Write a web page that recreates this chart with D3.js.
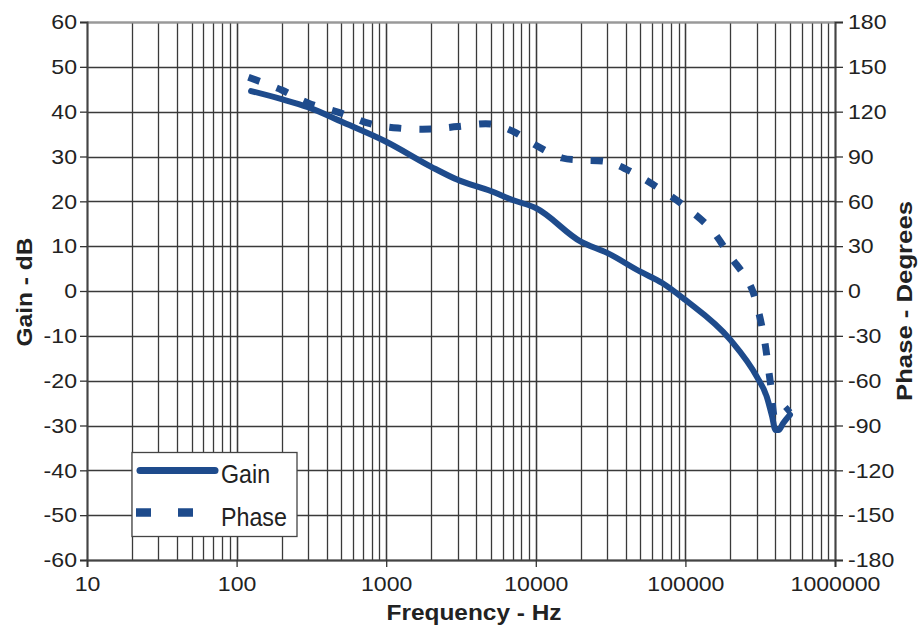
<!DOCTYPE html>
<html><head><meta charset="utf-8">
<script src="https://cdn.jsdelivr.net/npm/d3@7"></script>
<style>body{margin:0;background:#fff;}svg{display:block;font-family:"Liberation Sans",Arial,sans-serif;}</style>
</head><body>
<svg id="c" width="920" height="627"></svg>
<script>
// Data
const gainFreq = [125, 200, 300, 500, 1000, 2000, 3000, 5000, 7000, 10000, 20000, 30000, 50000, 70000, 100000, 200000, 300000, 350000, 380000, 400000, 420000, 450000, 500000];
const gainDb   = [44.6, 42.8, 41.0, 37.8, 33.3, 27.7, 24.8, 22.3, 20.3, 18.5, 11.0, 8.5, 4.3, 1.8, -2.0, -10.9, -19.1, -23.6, -28.0, -31.0, -31.0, -29.5, -27.6];
const phaseFreq = [120, 200, 300, 500, 780, 1200, 2000, 3000, 5000, 7000, 10000, 15000, 20000, 30000, 40000, 60000, 100000, 150000, 200000, 250000, 280000, 330000, 370000, 400000, 420000, 450000, 500000];
const phaseDeg  = [143, 134.5, 125.8, 119, 112, 109, 108.4, 110, 111.7, 107, 97.5, 89, 87.6, 86.5, 81.6, 71.6, 56.4, 40.8, 23, 10, 0.6, -27.3, -61.6, -86, -84, -82, -78];
const xTicks = [10, 100, 1000, 10000, 100000, 1000000];
const gainTicks = d3.range(-60, 61, 10);
const phaseTicks = d3.range(-180, 181, 30);
const seriesNames = ["Gain", "Phase"];

const svg = d3.select("#c");
const L = 87, R = 835, T = 22, B = 560;
const x = d3.scaleLog().domain([10, 1e6]).range([L, R]);
const yG = d3.scaleLinear().domain([-60, 60]).range([B, T]);
const yP = d3.scaleLinear().domain([-180, 180]).range([B, T]);
const color = "#1e4b8c";
const gridC = "#3a3a3a";

function stretch(sel, k) {
  sel.each(function () {
    const w = this.getComputedTextLength();
    d3.select(this).attr("textLength", w * k).attr("lengthAdjust", "spacingAndGlyphs");
  });
}

// grid
const minor = [];
for (let d = 10; d < 1e6; d *= 10) for (let k = 1; k <= 10; k++) minor.push(d * k);
const g = svg.append("g");
g.selectAll("line.v").data(minor).join("line")
  .attr("x1", d => Math.round(x(d)) + 0.5).attr("x2", d => Math.round(x(d)) + 0.5)
  .attr("y1", T).attr("y2", B).attr("stroke", gridC).attr("stroke-width", 1.3);
g.selectAll("line.h").data(gainTicks).join("line")
  .attr("y1", d => Math.round(yG(d)) + 0.5).attr("y2", d => Math.round(yG(d)) + 0.5)
  .attr("x1", L).attr("x2", R).attr("stroke", gridC).attr("stroke-width", 1.3);
svg.append("line").attr("x1", L).attr("x2", R).attr("y1", T + 0.5).attr("y2", T + 0.5).attr("stroke", "#999").attr("stroke-width", 2);

// axes
const fmt = d => String(d);
const axL = svg.append("g").attr("transform", `translate(${L},0)`)
  .call(d3.axisLeft(yG).tickValues(gainTicks).tickSize(7).tickPadding(3).tickFormat(fmt));
const axR = svg.append("g").attr("transform", `translate(${R},0)`)
  .call(d3.axisRight(yP).tickValues(phaseTicks).tickSize(8).tickPadding(5).tickFormat(fmt));
const axB = svg.append("g").attr("transform", `translate(0,${B})`)
  .call(d3.axisBottom(x).tickValues(xTicks).tickSize(7).tickPadding(9).tickFormat(fmt));
[axL, axR, axB].forEach(a => {
  a.select(".domain").attr("stroke", "#444").attr("stroke-width", 2);
  a.selectAll(".tick line").attr("stroke", "#333").attr("stroke-width", 1.3);
  a.selectAll("text").attr("fill", "#222").style("font-size", "21px").style("font-family", "Liberation Sans, Arial, sans-serif");
  stretch(a.selectAll("text"), 1.1);
});

// lines
const lineG = d3.line().x((d, i) => x(gainFreq[i])).y(d => yG(d)).curve(d3.curveMonotoneX);
const lineP = d3.line().x((d, i) => x(phaseFreq[i])).y(d => yP(d)).curve(d3.curveCatmullRom.alpha(0.5));
svg.append("path").datum(phaseDeg).attr("d", lineP).attr("fill", "none")
  .attr("stroke", color).attr("stroke-width", 7).attr("stroke-dasharray", "12,18");
svg.append("path").datum(gainDb).attr("d", lineG).attr("fill", "none")
  .attr("stroke", color).attr("stroke-width", 6).attr("stroke-linecap", "round").attr("stroke-linejoin", "round");

// axis titles
const titleStyle = s => s.style("font-weight", "bold").style("font-size", "22px").attr("fill", "#222").attr("text-anchor", "middle");
svg.append("text").attr("x", 474).attr("y", 620).call(titleStyle).text("Frequency - Hz")
  .attr("textLength", 175).attr("lengthAdjust", "spacingAndGlyphs");
svg.append("text").attr("transform", `translate(32,292) rotate(-90)`).call(titleStyle).text("Gain - dB")
  .attr("textLength", 109).attr("lengthAdjust", "spacingAndGlyphs");
svg.append("text").attr("transform", `translate(912,301) rotate(-90)`).call(titleStyle).text("Phase - Degrees")
  .attr("textLength", 200).attr("lengthAdjust", "spacingAndGlyphs");

// legend
const lg = svg.append("g");
lg.append("rect").attr("x", 132).attr("y", 452.5).attr("width", 165).attr("height", 84)
  .attr("fill", "#fff").attr("stroke", "#444").attr("stroke-width", 1.3);
lg.append("line").attr("x1", 140).attr("x2", 215).attr("y1", 470.5).attr("y2", 470.5)
  .attr("stroke", color).attr("stroke-width", 7).attr("stroke-linecap", "round");
lg.append("line").attr("x1", 136).attr("x2", 193).attr("y1", 512.5).attr("y2", 512.5)
  .attr("stroke", color).attr("stroke-width", 8.5).attr("stroke-dasharray", "15,27");
lg.selectAll("text.lt").data(seriesNames).join("text")
  .attr("x", 221).attr("y", (d, i) => 483 + i * 43)
  .style("font-size", "25px").attr("fill", "#222").text(d => d)
  .each(function () {
    const w = this.getComputedTextLength();
    d3.select(this).attr("textLength", w * 0.93).attr("lengthAdjust", "spacingAndGlyphs");
  });
</script>
</body></html>
